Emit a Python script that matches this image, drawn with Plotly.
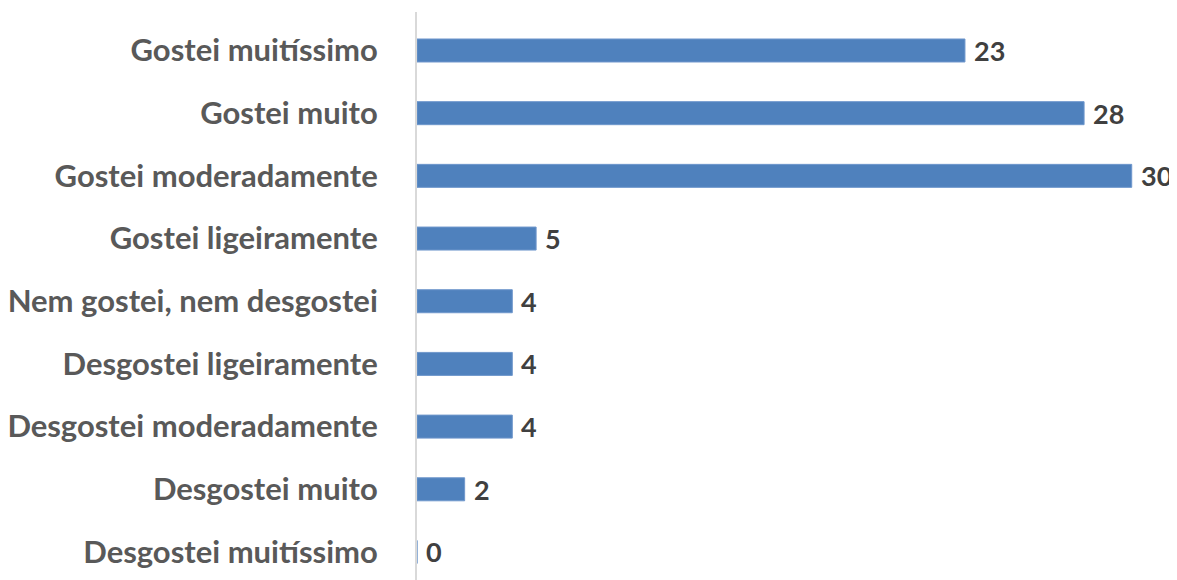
import plotly.graph_objects as go

categories = [
    "Gostei muitíssimo",
    "Gostei muito",
    "Gostei moderadamente",
    "Gostei ligeiramente",
    "Nem gostei, nem desgostei",
    "Desgostei ligeiramente",
    "Desgostei moderadamente",
    "Desgostei muito",
    "Desgostei muitíssimo",
]
values = [23, 28, 30, 5, 4, 4, 4, 2, 0]

# bottom-to-top order for plotly
cats_bt = categories[::-1]
vals_bt = values[::-1]

fig = go.Figure()
fig.add_trace(go.Bar(
    y=cats_bt, x=vals_bt, orientation="h",
    marker=dict(color="#4f81bd", line=dict(color="#6f97cc", width=1)),
    hoverinfo="skip",
))

for c, v in zip(cats_bt, vals_bt):
    fig.add_annotation(
        x=v, y=c, text=str(v), showarrow=False,
        xanchor="left", xshift=7, yshift=0,
        font=dict(family="Lato", size=27, color="#404040", weight="bold"),
    )

fig.update_layout(
    width=1169, height=572,
    margin=dict(l=409, r=0, t=4, b=0, autoexpand=False),
    paper_bgcolor="white", plot_bgcolor="white",
    bargap=0.633,
    showlegend=False,
    xaxis=dict(range=[0, 31.9], showgrid=False, zeroline=False,
               showline=False, showticklabels=False, automargin=False),
    yaxis=dict(range=[-0.447, 8.614], showgrid=False, zeroline=False,
               showline=True, linecolor="#d9d9d9", linewidth=2,
               ticks="", ticklabelstandoff=31, automargin=False,
               tickfont=dict(family="Lato", size=31, color="#595959", weight="bold")),
)

fig.write_html("out.html")
